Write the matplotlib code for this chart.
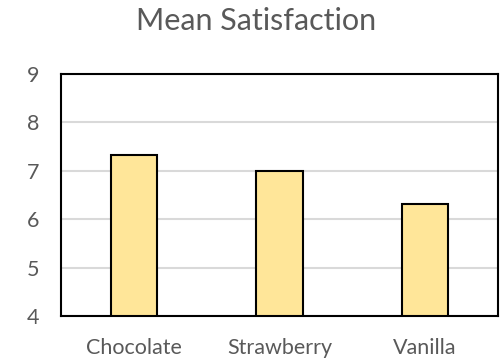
import matplotlib
matplotlib.use('Agg')
import matplotlib.pyplot as plt

# data
flavours = ['Chocolate', 'Strawberry', 'Vanilla']
mean_satisfaction = [7.33, 7.0, 6.32]
y_ticks = [4, 5, 6, 7, 8, 9]

plt.rcParams['font.family'] = ['Lato', 'DejaVu Sans']
text_color = '#595959'

fig = plt.figure(figsize=(5, 3.61), dpi=100)
ax = fig.add_axes([61 / 500, 1 - 316 / 361, 437 / 500, 242 / 361])

x = range(len(flavours))
ax.bar(x, [v - 4 for v in mean_satisfaction], bottom=4, width=0.32,
       color='#FFE699', edgecolor='black', linewidth=1.5, zorder=3)

ax.set_xlim(-0.5, len(flavours) - 0.5)
ax.set_ylim(4, 9)
ax.set_yticks(y_ticks)
ax.set_xticks(list(x))
ax.set_xticklabels(flavours)
ax.tick_params(axis='both', length=0, colors=text_color)
ax.tick_params(axis='x', pad=16, labelsize=15.5)
ax.tick_params(axis='y', pad=24.5, labelsize=15.5)
for lab in ax.get_yticklabels():
    lab.set_horizontalalignment('left')
ax.grid(axis='y', color='#D9D9D9', linewidth=1.5, zorder=0)
for s in ax.spines.values():
    s.set_color('black')
    s.set_linewidth(1.5)

fig.text(256 / 500, 1 - 21 / 361, 'Mean Satisfaction', ha='center', va='center',
         fontsize=22, color=text_color)

fig.savefig('out.png', dpi=100)
